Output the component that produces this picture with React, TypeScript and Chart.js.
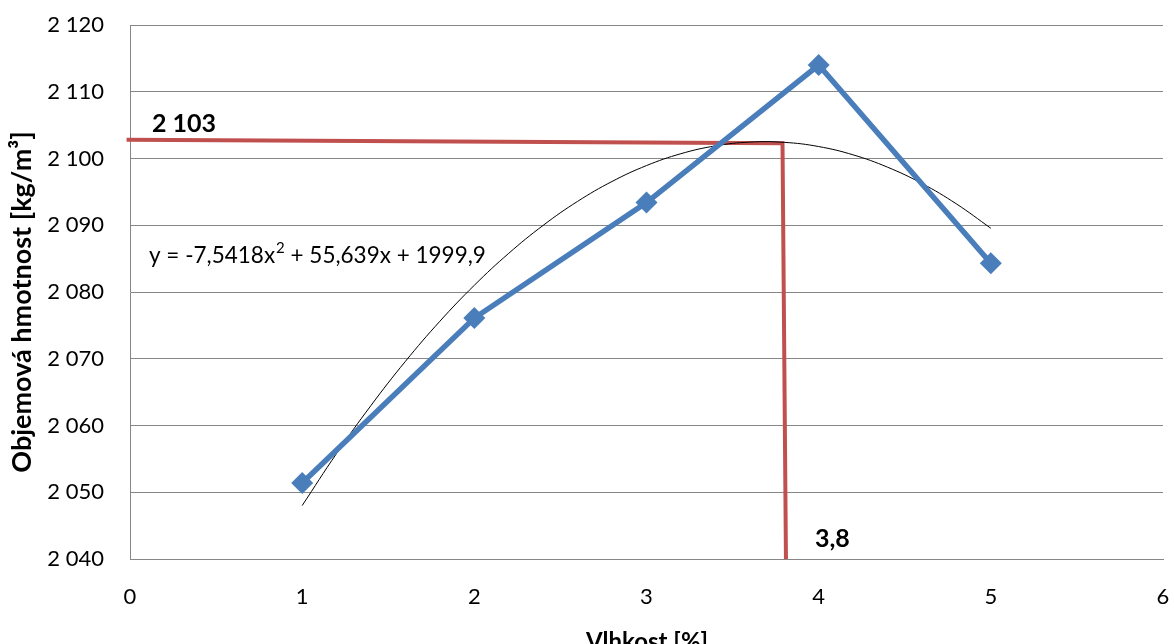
import React, { useEffect, useRef } from "react";
import { Chart, registerables } from "chart.js";

Chart.register(...registerables);

// Measured series
const moistureX = [1, 2, 3, 4, 5];
const densityY = [2051.4, 2076.1, 2093.4, 2114.0, 2084.3];

// Polynomial trendline values (y = -7,5418x² + 55,639x + 1999,9)
const trendX = [1.0, 1.2, 1.4, 1.6, 1.8, 2.0, 2.2, 2.4, 2.6, 2.8, 3.0, 3.2, 3.4, 3.6, 3.8, 4.0, 4.2, 4.4, 4.6, 4.8, 5.0];
const trendY = [2048.0, 2055.81, 2063.01, 2069.62, 2075.62, 2081.01, 2085.8, 2089.99, 2093.58, 2096.56, 2098.94, 2100.72, 2101.89, 2102.46, 2102.42, 2101.79, 2100.55, 2098.7, 2096.26, 2093.2, 2089.55];

// Red guide line (hand-drawn read-off)
const guideX = [-0.02, 3.79, 3.81];
const guideY = [2102.8, 2102.3, 2040];

const xTicks = [0, 1, 2, 3, 4, 5, 6];
const yTicks = [2040, 2050, 2060, 2070, 2080, 2090, 2100, 2110, 2120];

const labelOptimum = "2 103";
const labelMoisture = "3,8";
const equationParts = ["y = -7,5418x", "2", " + 55,639x + 1999,9"];
const xTitle = "Vlhkost [%]";
const yTitle = "Objemová hmotnost [kg/m³]";

const FONT = "Lato, 'Open Sans', sans-serif";

function fmt(v: number): string {
  const s = String(Math.round(v));
  return s.replace(/\B(?=(\d{3})+(?!\d))/g, " ");
}

const textPlugin = {
  id: "texts",
  afterDraw(chart: any) {
    const ctx = chart.ctx as CanvasRenderingContext2D;
    ctx.save();
    ctx.fillStyle = "#000";
    ctx.font = `bold 25px ${FONT}`;
    ctx.textAlign = "left";
    ctx.textBaseline = "alphabetic";
    ctx.fillText(labelOptimum, 152, 132);
    ctx.fillText(labelMoisture, 815, 547);

    ctx.font = `22.5px ${FONT}`;
    let x = 149;
    const base = 263;
    ctx.fillText(equationParts[0], x, base);
    x += ctx.measureText(equationParts[0]).width;
    ctx.font = `15px ${FONT}`;
    ctx.fillText(equationParts[1], x + 1, base - 10);
    x += ctx.measureText(equationParts[1]).width + 1;
    ctx.font = `22.5px ${FONT}`;
    ctx.fillText(equationParts[2], x, base);

    ctx.font = `bold 24px ${FONT}`;
    ctx.textAlign = "center";
    ctx.fillText(xTitle, 647, 650);

    ctx.font = `bold 27px ${FONT}`;
    ctx.translate(22, 302);
    ctx.rotate(-Math.PI / 2);
    ctx.textBaseline = "middle";
    ctx.fillText(yTitle, 0, 0);
    ctx.restore();
  },
};

export default function App() {
  const ref = useRef<HTMLCanvasElement | null>(null);

  useEffect(() => {
    if (!ref.current) return;
    const chart = new Chart(ref.current, {
      type: "line",
      data: {
        datasets: [
          {
            label: "Objemová hmotnost",
            data: moistureX.map((x, i) => ({ x, y: densityY[i] })),
            borderColor: "#4A7EBB",
            backgroundColor: "#4A7EBB",
            borderWidth: 5.5,
            pointStyle: "rectRot",
            pointRadius: 11,
            pointBorderWidth: 0,
            pointBackgroundColor: "#4A7EBB",
            tension: 0,
            order: 1,
            clip: false,
          },
          {
            label: "Polyg. trend",
            data: trendX.map((x, i) => ({ x, y: trendY[i] })),
            borderColor: "#000000",
            borderWidth: 1,
            pointRadius: 0,
            tension: 0.4,
            order: 2,
          },
          {
            label: "guide",
            data: guideX.map((x, i) => ({ x, y: guideY[i] })),
            borderColor: "#C0504D",
            borderWidth: 4,
            pointRadius: 0,
            tension: 0,
            order: 3,
            clip: false,
          },
        ],
      },
      options: {
        animation: false,
        responsive: true,
        maintainAspectRatio: false,
        layout: { padding: { top: 25, right: 10, left: 0, bottom: 0 } },
        plugins: {
          legend: { display: false },
          tooltip: { enabled: false },
        },
        scales: {
          x: {
            type: "linear",
            min: 0,
            max: 6,
            afterFit: (s: any) => {
              s.height = 85;
              s.paddingLeft = 0;
              s.paddingRight = 0;
              s.paddingTop = 0;
              s.paddingBottom = 0;
            },
            afterBuildTicks: (s: any) => {
              s.ticks = xTicks.map((v) => ({ value: v }));
            },
            grid: { display: false, drawTicks: false },
            border: { display: true, color: "#868686", width: 1 },
            ticks: {
              padding: 25,
              color: "#000",
              font: { family: FONT, size: 22 },
              callback: (v: any) => String(v),
            },
          },
          y: {
            type: "linear",
            min: 2040,
            max: 2120,
            afterFit: (s: any) => {
              s.width = 130;
              s.paddingLeft = 0;
              s.paddingRight = 0;
              s.paddingTop = 0;
              s.paddingBottom = 0;
            },
            afterBuildTicks: (s: any) => {
              s.ticks = yTicks.map((v) => ({ value: v }));
            },
            grid: { color: "#868686", lineWidth: 1, drawTicks: false },
            border: { display: true, color: "#868686", width: 1 },
            ticks: {
              padding: 26,
              color: "#000",
              font: { family: FONT, size: 22 },
              callback: (v: any) => fmt(Number(v)),
            },
          },
        },
      },
      plugins: [textPlugin],
    });
    return () => chart.destroy();
  }, []);

  return (
    <div style={{ position: "absolute", left: 0, top: 0, width: 1174, height: 644, background: "#fff" }}>
      <canvas ref={ref} />
    </div>
  );
}
